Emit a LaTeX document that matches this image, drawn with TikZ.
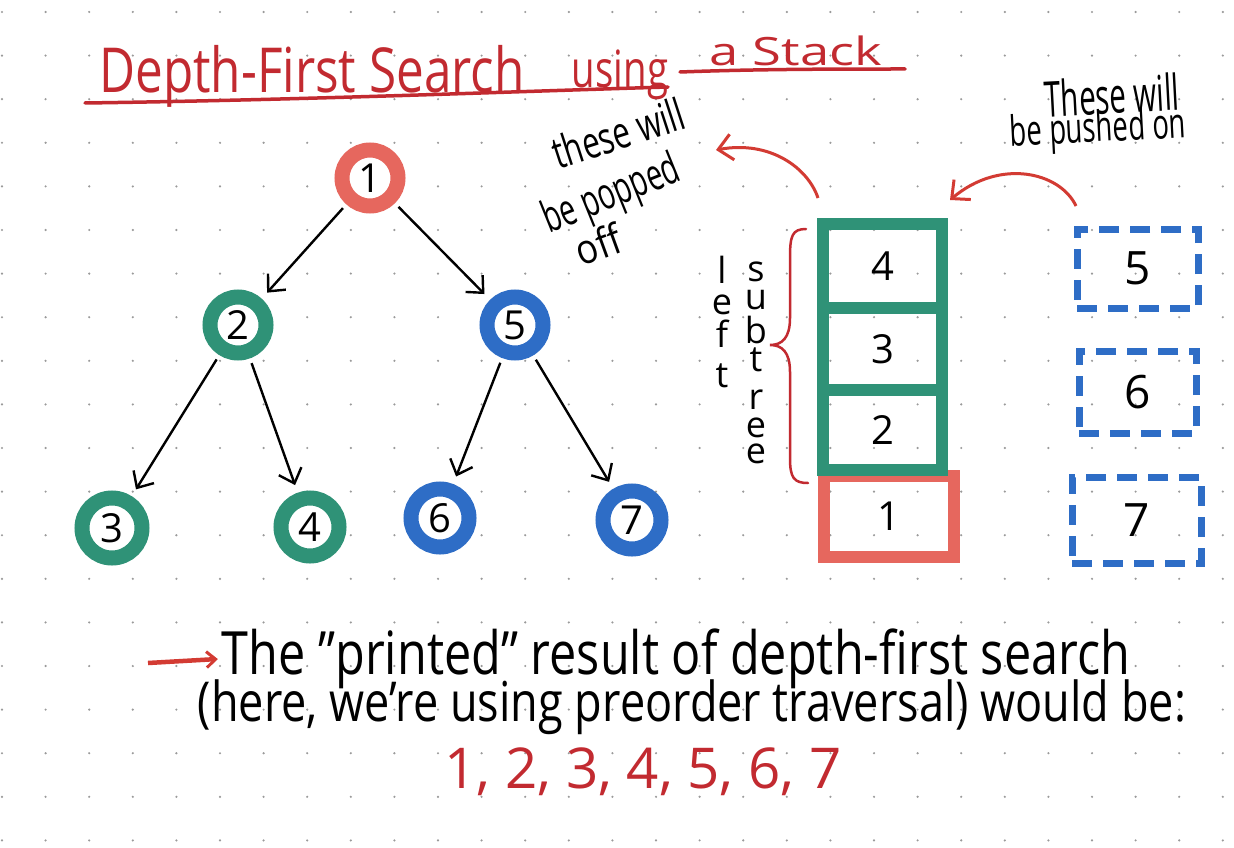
\documentclass[tikz,border=0pt]{standalone}
\usepackage{fontspec}
\setmainfont{Open Sans}
\usepackage{graphicx}
\usetikzlibrary{arrows.meta}
\definecolor{tred}{HTML}{C22A30}
\definecolor{salmon}{HTML}{E6675E}
\definecolor{myteal}{HTML}{2F9277}
\definecolor{myblue}{HTML}{2E6DC6}
\definecolor{arrred}{HTML}{D33B33}
\definecolor{dotc}{HTML}{9A9A9A}
\newcommand{\fitbox}[3]{\resizebox*{#1pt}{#2pt}{#3}}
\tikzset{
  tnode/.style={circle, draw, line width=15pt, minimum size=54pt, inner sep=0pt, fill=white, font=\fontsize{40}{40}\selectfont},
  tarrow/.style={line width=2.4pt, black, -{Straight Barb[length=13pt,width=24pt,line width=2.4pt]}, shorten <=5pt, shorten >=8pt},
  stk/.style={rectangle, draw=myteal, line width=12pt, minimum width=119pt, inner sep=0pt, font=\fontsize{40}{40}\selectfont},
  bbox/.style={rectangle, draw=myblue, line width=7pt, dash pattern=on 20pt off 11pt, inner sep=0pt, font=\fontsize{46}{46}\selectfont},
  rarrow/.style={arrred, line width=3pt, -{Straight Barb[length=14pt,width=26pt,line width=3pt]}},
  txt/.style={inner sep=0pt},
  letter/.style={inner sep=0pt, font=\fontsize{36}{36}\selectfont}
}
\begin{document}
\begin{tikzpicture}[x=1pt,y=-1pt]
\useasboundingbox (0,0) rectangle (1234,848);
\fill[white] (0,0) rectangle (1234,848);
% dot grid of the paper
\foreach \i in {0,...,28}{
  \foreach \j in {0,...,19}{
    \fill[dotc] (2+\i*43.6, 12+\j*43.6) circle (1.2);
  }
}
% title
\node[txt, tred] (t1) at (312,76) {\fitbox{425}{62}{Depth-First Search}};
\node[txt, tred] (t2) at (620,75) {\fitbox{96}{50}{using}};
\node[txt, tred] (t3) at (796,51) {\fitbox{172}{30}{a Stack}};
\draw[tred, line width=3.5pt, line cap=round] (85,103) .. controls (300,100) and (500,92) .. (668,87);
\draw[tred, line width=3.5pt, line cap=round] (680,72) .. controls (760,69) and (840,69) .. (905,69);

% tree
\node[tnode, draw=salmon, minimum size=56pt] (n1) at (370,178) {1};
\node[tnode, draw=myteal, minimum size=56pt] (n2) at (238,325) {2};
\node[tnode, draw=myblue, minimum size=56pt] (n5) at (515,325) {5};
\node[tnode, draw=myteal, minimum size=60pt] (n3) at (112,528) {3};
\node[tnode, draw=myteal, minimum size=58pt] (n4) at (310,527) {4};
\node[tnode, draw=myblue, minimum size=58pt] (n6) at (440,518) {6};
\node[tnode, draw=myblue, minimum size=58pt] (n7) at (632,520) {7};
\draw[tarrow] (n1) -- (n2);
\draw[tarrow] (n1) -- (n5);
\draw[tarrow] (n2) -- (n3);
\draw[tarrow] (n2) -- (n4);
\draw[tarrow] (n5) -- (n6);
\draw[tarrow] (n5) -- (n7);

% stack
\node[stk, draw=salmon, minimum width=130pt, minimum height=81pt] (s1) at (889,516.5) {1};
\node[stk, minimum height=84pt] (s4) at (882.5,266) {4};
\node[stk, minimum height=82pt] (s3) at (882.5,349) {3};
\node[stk, minimum height=80pt] (s2) at (882.5,430) {2};

% brace
\draw[tred, line width=2.5pt, line cap=round] (806,229) .. controls (792,229) and (790,236) .. (790,258) -- (790,318) .. controls (790,338) and (782,345) .. (770,345) .. controls (782,345) and (790,352) .. (790,372) -- (790,458) .. controls (790,478) and (794,483) .. (808,483);
\foreach \ch/\yy [count=\k] in {l/270,e/305,f/334,t/376}
  \node[letter] (L\k) at (722,\yy) {\ch};
\foreach \ch/\yy [count=\k] in {s/272,u/300,b/330,t/360,r/400,e/428,e/454}
  \node[letter] (S\k) at (756,\yy) {\ch};

% pushed boxes
\node[bbox, minimum width=121pt, minimum height=79pt] (b5) at (1137.5,268.5) {5};
\node[bbox, minimum width=117pt, minimum height=82pt] (b6) at (1137.5,392) {6};
\node[bbox, minimum width=129pt, minimum height=86pt] (b7) at (1136.5,520) {7};

% annotations
\node[txt, rotate=18] (p1) at (618,133) {\fitbox{136}{34}{these will}};
\node[txt, rotate=22] (p2) at (612,196) {\fitbox{144}{44}{be popped}};
\node[txt, rotate=20] (p3) at (598,244) {\fitbox{46}{32}{off}};
\node[txt, rotate=3] (q1) at (1112,95) {\fitbox{135}{38}{These will}};
\node[txt, rotate=3] (q2) at (1098,131) {\fitbox{176}{42}{be pushed on}};

\coordinate (popA) at (818,198);
\coordinate (popB) at (716,150);
\draw[rarrow] (popA) .. controls (808,168) and (770,140) .. (popB);
\coordinate (pushA) at (1076,206);
\coordinate (pushB) at (950,200);
\draw[rarrow] (pushA) .. controls (1060,172) and (1000,158) .. (pushB);

% result text
\node[txt] (r1) at (676,659) {\fitbox{908}{60}{The "printed" result of depth-first search}};
\node[txt] (r2) at (692,707) {\fitbox{988}{55}{(here, we’re using preorder traversal) would be:}};
\node[txt, tred] (r3) at (643,772) {\fitbox{397}{48}{1, 2, 3, 4, 5, 6, 7}};
\coordinate (resA) at (148,663);
\draw[arrred, line width=4.5pt, -{Straight Barb[length=9pt,width=16pt,line width=3pt]}] (resA) -- ([xshift=-4pt]r1.west);
\end{tikzpicture}
\end{document}
